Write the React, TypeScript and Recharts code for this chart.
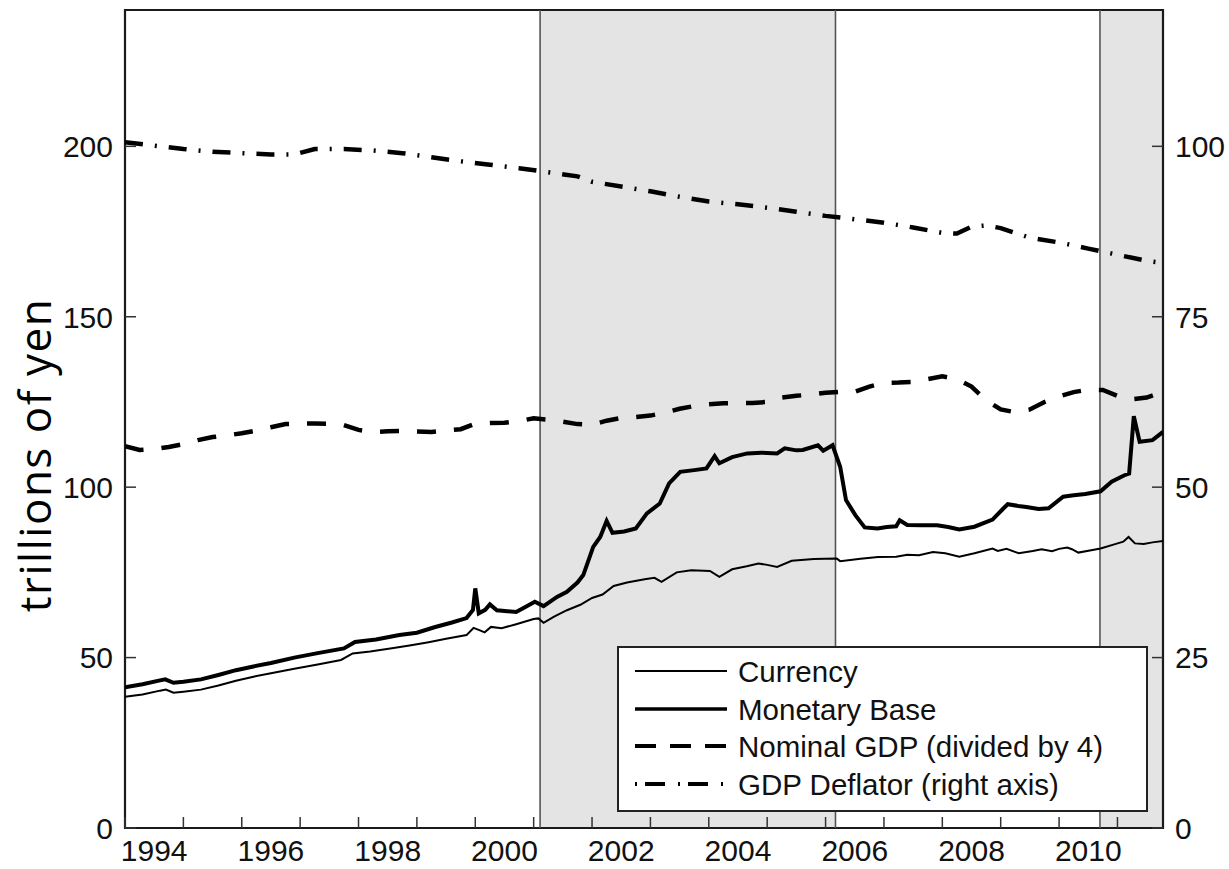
import React from "react";
import { LineChart, Line, XAxis, YAxis, ReferenceArea, ReferenceLine, Legend } from "recharts";

// [year, trillions of yen]
const currency: [number, number][] = [
  [1994.0, 38.5], [1994.3, 39.2], [1994.6, 40.3], [1994.7, 40.6], [1994.83, 39.7], [1995.0, 40.0],
  [1995.3, 40.6], [1995.6, 41.8], [1995.9, 43.2], [1996.2, 44.4], [1996.5, 45.4], [1996.9, 46.7],
  [1997.3, 48.0], [1997.7, 49.3], [1997.9, 51.2], [1998.2, 51.8], [1998.6, 52.8], [1998.9, 53.6],
  [1999.2, 54.5], [1999.5, 55.5], [1999.85, 56.6], [1999.97, 58.7], [2000.08, 58.0], [2000.16, 57.4],
  [2000.27, 59.0], [2000.45, 58.6], [2000.7, 59.8], [2001.0, 61.3], [2001.08, 61.5], [2001.17, 60.2],
  [2001.35, 62.0], [2001.57, 63.9], [2001.8, 65.5], [2002.0, 67.5], [2002.18, 68.5], [2002.37, 71.0],
  [2002.6, 72.0], [2002.9, 73.0], [2003.07, 73.4], [2003.19, 72.2], [2003.45, 75.0], [2003.7, 75.6],
  [2004.02, 75.4], [2004.18, 73.7], [2004.4, 75.9], [2004.65, 76.8], [2004.85, 77.6], [2005.0, 77.2],
  [2005.17, 76.6], [2005.42, 78.4], [2005.8, 78.9], [2006.19, 79.1], [2006.25, 78.3], [2006.6, 79.0],
  [2006.9, 79.5], [2007.21, 79.6], [2007.4, 80.2], [2007.6, 80.0], [2007.84, 81.0], [2008.05, 80.6],
  [2008.29, 79.6], [2008.55, 80.6], [2008.86, 82.0], [2008.95, 81.3], [2009.1, 81.9], [2009.31, 80.6],
  [2009.55, 81.3], [2009.7, 81.8], [2009.88, 81.2], [2010.0, 81.9], [2010.14, 82.3], [2010.22, 81.8],
  [2010.33, 80.8], [2010.55, 81.5], [2010.71, 82.0], [2010.96, 83.3], [2011.1, 84.0], [2011.19, 85.4],
  [2011.3, 83.5], [2011.45, 83.3], [2011.6, 83.8], [2011.78, 84.2],
];

const monetaryBase: [number, number][] = [
  [1994.0, 41.3], [1994.3, 42.2], [1994.6, 43.3], [1994.69, 43.6], [1994.83, 42.6], [1995.0, 42.9],
  [1995.3, 43.6], [1995.6, 44.9], [1995.9, 46.3], [1996.2, 47.4], [1996.5, 48.4], [1996.9, 50.0],
  [1997.3, 51.3], [1997.75, 52.7], [1997.94, 54.6], [1998.3, 55.3], [1998.7, 56.6], [1999.0, 57.3],
  [1999.3, 58.9], [1999.6, 60.3], [1999.85, 61.6], [1999.96, 64.0], [2000.0, 70.3], [2000.06, 63.0],
  [2000.17, 64.0], [2000.25, 65.6], [2000.37, 63.9], [2000.55, 63.6], [2000.7, 63.4], [2000.85, 64.8],
  [2001.02, 66.4], [2001.17, 65.1], [2001.4, 67.8], [2001.57, 69.3], [2001.75, 72.0], [2001.85, 74.2],
  [2002.02, 82.5], [2002.14, 85.4], [2002.25, 90.1], [2002.35, 86.6], [2002.55, 87.0], [2002.75, 87.9],
  [2002.94, 92.3], [2003.16, 95.2], [2003.32, 101.1], [2003.51, 104.5], [2003.75, 105.0], [2003.96, 105.5],
  [2004.1, 109.1], [2004.18, 107.0], [2004.4, 108.8], [2004.66, 109.9], [2004.9, 110.1], [2005.17, 109.9],
  [2005.3, 111.4], [2005.5, 110.8], [2005.61, 110.9], [2005.87, 112.3], [2005.96, 110.7], [2006.12, 112.3],
  [2006.25, 106.0], [2006.35, 96.2], [2006.51, 91.8], [2006.67, 88.2], [2006.89, 87.9], [2007.05, 88.3],
  [2007.21, 88.5], [2007.27, 90.3], [2007.4, 88.9], [2007.65, 88.8], [2007.91, 88.8], [2008.1, 88.3],
  [2008.29, 87.6], [2008.55, 88.4], [2008.86, 90.5], [2009.02, 93.3], [2009.12, 95.0], [2009.3, 94.5],
  [2009.44, 94.2], [2009.65, 93.6], [2009.82, 93.8], [2010.07, 97.2], [2010.25, 97.6], [2010.45, 98.0],
  [2010.71, 98.8], [2010.9, 101.6], [2011.12, 103.5], [2011.2, 104.0], [2011.28, 120.8], [2011.38, 113.3],
  [2011.6, 113.8], [2011.78, 116.2],
];

const nominalGdpQuarter: [number, number][] = [
  [1994.0, 112.0], [1994.25, 110.9], [1994.5, 111.2], [1994.75, 111.8], [1995.0, 112.6], [1995.25, 113.8],
  [1995.5, 114.7], [1995.75, 115.2], [1996.0, 115.8], [1996.25, 116.6], [1996.5, 117.6], [1996.75, 118.5],
  [1997.0, 118.6], [1997.25, 118.7], [1997.5, 118.6], [1997.75, 118.2], [1998.0, 116.8], [1998.25, 116.2],
  [1998.5, 116.4], [1998.75, 116.5], [1999.0, 116.3], [1999.25, 116.2], [1999.5, 116.6], [1999.75, 117.0],
  [2000.0, 118.6], [2000.25, 118.8], [2000.5, 118.9], [2000.75, 119.4], [2001.0, 120.2], [2001.25, 119.8],
  [2001.5, 119.2], [2001.75, 118.5], [2002.0, 118.3], [2002.25, 119.5], [2002.5, 120.3], [2002.75, 120.6],
  [2003.0, 121.0], [2003.25, 121.9], [2003.5, 123.0], [2003.75, 123.8], [2004.0, 124.3], [2004.25, 124.6],
  [2004.5, 124.7], [2004.75, 124.7], [2005.0, 125.0], [2005.25, 126.3], [2005.5, 126.8], [2005.75, 127.2],
  [2006.0, 127.7], [2006.25, 128.0], [2006.5, 128.0], [2006.75, 129.5], [2007.0, 130.6], [2007.25, 130.7],
  [2007.5, 130.9], [2007.75, 131.7], [2008.0, 132.5], [2008.25, 131.7], [2008.5, 129.5], [2008.75, 125.5],
  [2009.0, 122.8], [2009.25, 122.0], [2009.5, 122.8], [2009.75, 125.0], [2010.0, 126.6], [2010.25, 127.9],
  [2010.5, 128.6], [2010.75, 128.5], [2011.0, 126.8], [2011.25, 125.8], [2011.5, 126.3], [2011.78, 128.0],
];

// right axis, index
const gdpDeflator: [number, number][] = [
  [1994.0, 100.6], [1994.5, 100.1], [1995.0, 99.6], [1995.5, 99.2], [1996.0, 99.0], [1996.5, 98.8],
  [1996.9, 98.8], [1997.25, 99.6], [1997.75, 99.6], [1998.25, 99.4], [1998.75, 99.0], [1999.25, 98.4],
  [1999.75, 97.8], [2000.25, 97.3], [2000.75, 96.8], [2001.25, 96.2], [2001.75, 95.6], [2002.0, 94.8],
  [2002.5, 94.1], [2003.0, 93.4], [2003.5, 92.6], [2004.0, 91.9], [2004.5, 91.5], [2005.0, 91.0],
  [2005.5, 90.4], [2006.0, 89.8], [2006.5, 89.3], [2007.0, 88.8], [2007.5, 88.1], [2008.0, 87.3],
  [2008.25, 87.2], [2008.5, 88.2], [2008.75, 88.4], [2009.0, 88.0], [2009.5, 86.6], [2010.0, 85.9],
  [2010.5, 85.0], [2011.0, 84.1], [2011.5, 83.2], [2011.78, 82.9],
];

const shadedPeriods: [number, number][] = [
  [2001.11, 2006.17],
  [2010.7, 2011.78],
];

const tickYears = [1994, 1995, 1996, 1997, 1998, 1999, 2000, 2001, 2002, 2003, 2004, 2005, 2006, 2007, 2008, 2009, 2010, 2011];
const labelYears = [1994, 1996, 1998, 2000, 2002, 2004, 2006, 2008, 2010];
const leftTicks = [0, 50, 100, 150, 200];
const rightTicks = [0, 25, 50, 75, 100];

const xDomain: [number, number] = [1994, 2011.78];
const leftDomain: [number, number] = [0, 240];
const rightDomain: [number, number] = [0, 120];

const toRows = (pts: [number, number][]) => pts.map(([t, v]) => ({ t, v }));

// labels sit mid-year, tick marks on year boundaries
const bottomTicks = [...tickYears, ...labelYears.map((y) => y + 0.5)].sort((a, b) => a - b);

const FONT = "'Liberation Sans', Arial, Helvetica, sans-serif";
const INK = "#111";
const TICK_LEN = 11;

const series = [
  { name: "Currency", width: 2, dash: undefined, legendDash: undefined },
  { name: "Monetary Base", width: 4, dash: undefined, legendDash: undefined },
  { name: "Nominal GDP (divided by 4)", width: 4.5, dash: "19 18", legendDash: "21 14" },
  { name: "GDP Deflator (right axis)", width: 4.5, dash: "18 12 2 12", legendDash: "2 8 20 13" },
];

function BottomTick(props: any) {
  const { x, y, payload } = props;
  const v = payload.value as number;
  if (Number.isInteger(v)) {
    return <line x1={x} y1={y} x2={x} y2={y - TICK_LEN} stroke="#333" strokeWidth={1.5} />;
  }
  return (
    <text x={x} y={y + 33} textAnchor="middle" fontFamily={FONT} fontSize={30} fill={INK}>
      {Math.floor(v)}
    </text>
  );
}

function TopTick(props: any) {
  const { x, y } = props;
  return <line x1={x} y1={y} x2={x} y2={y + TICK_LEN} stroke="#333" strokeWidth={1.5} />;
}

function LeftTick(props: any) {
  const { x, y, payload } = props;
  return (
    <g>
      <line x1={x} y1={y} x2={x + TICK_LEN} y2={y} stroke="#333" strokeWidth={1.5} />
      <text x={x - 12} y={y} dy="0.36em" textAnchor="end" fontFamily={FONT} fontSize={30} fill={INK}>
        {payload.value}
      </text>
    </g>
  );
}

function RightTick(props: any) {
  const { x, y, payload } = props;
  return (
    <g>
      <line x1={x} y1={y} x2={x - TICK_LEN} y2={y} stroke="#333" strokeWidth={1.5} />
      <text x={x + 12} y={y} dy="0.36em" textAnchor="start" fontFamily={FONT} fontSize={30} fill={INK}>
        {payload.value}
      </text>
    </g>
  );
}

function LegendBox() {
  const rowY = [25, 63, 100, 138];
  return (
    <svg width={531} height={166} style={{ display: "block" }}>
      <rect x={1} y={1} width={529} height={164} fill="#fff" stroke="#222" strokeWidth={2} />
      {series.map((s, i) => (
        <g key={s.name}>
          <line x1={18} x2={110} y1={rowY[i]} y2={rowY[i]} stroke="#000" strokeWidth={s.width - (i === 0 ? 0 : 0.5)} strokeDasharray={s.legendDash} />
          <text x={121} y={rowY[i]} dy="0.36em" fontFamily={FONT} fontSize={29.5} fill={INK}>
            {s.name}
          </text>
        </g>
      ))}
    </svg>
  );
}

function YLabel() {
  return (
    <text
      x={36}
      y={455}
      transform="rotate(-90 36 455)"
      textAnchor="middle"
      dy="0.35em"
      fontFamily="'Open Sans', 'Noto Sans', sans-serif"
      fontSize={44}
      letterSpacing={1.5}
      fill="#000"
    >
      trillions of yen
    </text>
  );
}

export default function App() {
  return (
    <div style={{ position: "absolute", left: 0, top: 0, width: 1229, height: 869, background: "#fff" }}>
      <LineChart width={1229} height={869} margin={{ top: 10, right: 0, bottom: 0, left: 0 }}>
        <XAxis
          xAxisId="b"
          dataKey="t"
          type="number"
          domain={xDomain}
          ticks={bottomTicks}
          interval={0}
          height={41}
          axisLine={false}
          tickLine={false}
          tickSize={0}
          tickMargin={0}
          tick={<BottomTick />}
          allowDataOverflow
        />
        <XAxis
          xAxisId="t"
          orientation="top"
          type="number"
          domain={xDomain}
          ticks={tickYears}
          interval={0}
          height={0}
          axisLine={false}
          tickLine={false}
          tickSize={0}
          tickMargin={0}
          tick={<TopTick />}
          allowDataOverflow
        />
        <YAxis
          yAxisId="L"
          type="number"
          domain={leftDomain}
          ticks={leftTicks}
          interval={0}
          width={125}
          axisLine={false}
          tickLine={false}
          tickSize={0}
          tickMargin={0}
          tick={<LeftTick />}
          label={<YLabel />}
          allowDataOverflow
        />
        <YAxis
          yAxisId="R"
          orientation="right"
          type="number"
          domain={rightDomain}
          ticks={rightTicks}
          interval={0}
          width={66}
          axisLine={false}
          tickLine={false}
          tickSize={0}
          tickMargin={0}
          tick={<RightTick />}
          allowDataOverflow
        />

        {shadedPeriods.map(([a, b]) => (
          <ReferenceArea
            key={`area-${a}`}
            xAxisId="b"
            yAxisId="L"
            x1={a}
            x2={b}
            y1={leftDomain[0]}
            y2={leftDomain[1]}
            fill="#e4e4e4"
            fillOpacity={1}
            stroke="none"
          />
        ))}
        {shadedPeriods.map(([a, b]) =>
          [a, b].filter((v) => v < xDomain[1]).map((v) => (
            <ReferenceLine key={`line-${v}`} xAxisId="b" yAxisId="L" x={v} stroke="#555" strokeWidth={1.6} />
          ))
        )}

        <Line
          xAxisId="b"
          yAxisId="L"
          data={toRows(currency)}
          dataKey="v"
          name={series[0].name}
          stroke="#000"
          strokeWidth={series[0].width}
          dot={false}
          activeDot={false}
          isAnimationActive={false}
        />
        <Line
          xAxisId="b"
          yAxisId="L"
          data={toRows(monetaryBase)}
          dataKey="v"
          name={series[1].name}
          stroke="#000"
          strokeWidth={series[1].width}
          dot={false}
          activeDot={false}
          isAnimationActive={false}
        />
        <Line
          xAxisId="b"
          yAxisId="L"
          data={toRows(nominalGdpQuarter)}
          dataKey="v"
          name={series[2].name}
          stroke="#000"
          strokeWidth={series[2].width}
          strokeDasharray={series[2].dash}
          dot={false}
          activeDot={false}
          isAnimationActive={false}
        />
        <Line
          xAxisId="b"
          yAxisId="R"
          data={toRows(gdpDeflator)}
          dataKey="v"
          name={series[3].name}
          stroke="#000"
          strokeWidth={series[3].width}
          strokeDasharray={series[3].dash}
          dot={false}
          activeDot={false}
          isAnimationActive={false}
        />

        <ReferenceArea
          xAxisId="b"
          yAxisId="L"
          x1={xDomain[0]}
          x2={xDomain[1]}
          y1={leftDomain[0]}
          y2={leftDomain[1]}
          fill="none"
          stroke="#1a1a1a"
          strokeWidth={2.2}
        />
        <Legend
          layout="vertical"
          align="center"
          verticalAlign="middle"
          wrapperStyle={{ left: 617, top: 646, width: 531, height: 166 }}
          content={() => <LegendBox />}
        />
      </LineChart>
    </div>
  );
}
